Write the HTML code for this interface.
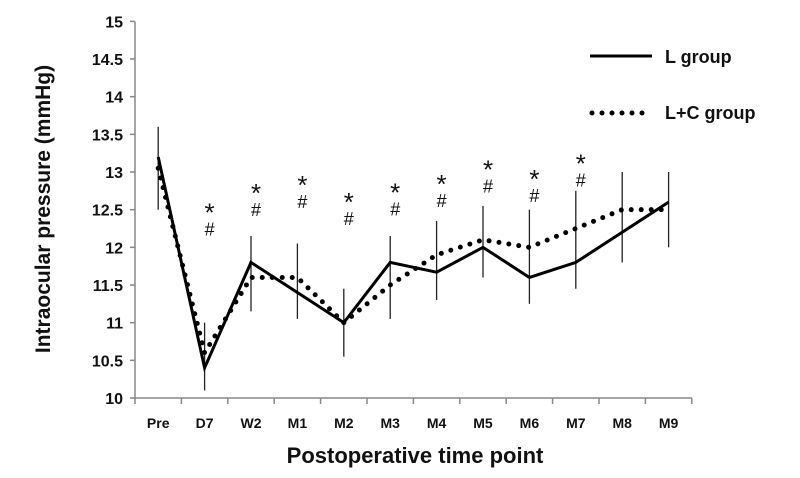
<!DOCTYPE html>
<html><head><meta charset="utf-8"><style>
body{margin:0;background:#fff;}
svg text{font-family:"Liberation Sans",sans-serif;}
</style></head><body>
<svg id="chart" width="800" height="473" viewBox="0 0 800 473" xmlns="http://www.w3.org/2000/svg">
<rect x="0" y="0" width="800" height="473" fill="#fff"/>
<g id="g"></g>
</svg>
<script>
const categories=["Pre","D7","W2","M1","M2","M3","M4","M5","M6","M7","M8","M9"];
const lGroup=[13.2,10.4,11.8,11.4,11.0,11.8,11.67,12.0,11.6,11.8,12.2,12.6];
const lcGroup=[13.05,10.6,11.6,11.6,11.0,11.5,11.9,12.1,12.0,12.25,12.5,12.5];
const errLow=[12.5,10.1,11.15,11.05,10.55,11.05,11.3,11.6,11.25,11.45,11.8,12.0];
const errHigh=[13.6,11.0,12.15,12.05,11.45,12.15,12.35,12.55,12.5,12.75,13.0,13.0];
const markTop=[null,12.5,12.76,12.87,12.64,12.77,12.88,13.07,12.95,13.15,null,null];
const yTicks=[10,10.5,11,11.5,12,12.5,13,13.5,14,14.5,15];
const x0=135,bw=46.4;
const X=i=>x0+(i+0.5)*bw;
const Y=v=>398-(v-10)*75.33;
const g=document.getElementById('g');
const NS='http://www.w3.org/2000/svg';
function mk(t,a,txt){const e=document.createElementNS(NS,t);for(const k in a)e.setAttribute(k,a[k]);if(txt!=null)e.textContent=txt;g.appendChild(e);return e;}
let e;
e=mk('line',{x1:x0,y1:Y(15),x2:x0,y2:398,stroke:'#888','stroke-width':1.5});

e=mk('line',{x1:x0,y1:398,x2:x0+12*bw,y2:398,stroke:'#888','stroke-width':1.5});

yTicks.forEach(v=>{
 e=mk('line',{x1:x0-5,y1:Y(v),x2:x0,y2:Y(v),stroke:'#888','stroke-width':1.5});
 
 e=mk('text',{x:x0-12,y:Y(v)+6,'text-anchor':'end','font-size':16,'font-weight':'bold',fill:'#111'},String(v));
 
});
for(let i=0;i<=12;i++){e=mk('line',{x1:x0+i*bw,y1:398,x2:x0+i*bw,y2:404,stroke:'#888','stroke-width':1.5});
 }
categories.forEach((c,i)=>{
 e=mk('text',{x:X(i),y:428,'text-anchor':'middle','font-size':14,'font-weight':'bold',fill:'#111'},c);
 
 e=mk('line',{x1:X(i),y1:Y(errLow[i]),x2:X(i),y2:Y(errHigh[i]),stroke:'#222','stroke-width':1.3});
 
});
e=mk('polyline',{points:lcGroup.map((v,i)=>X(i)+','+Y(v)).join(' '),fill:'none',stroke:'#000','stroke-width':5,'stroke-dasharray':'0 10','stroke-linecap':'round'});

e=mk('polyline',{points:lGroup.map((v,i)=>X(i)+','+Y(v)).join(' '),fill:'none',stroke:'#000','stroke-width':3});

categories.forEach((c,i)=>{
 if(markTop[i]==null)return;
 const ys=Y(markTop[i]);
 e=mk('text',{x:X(i)+5,y:ys+12,'text-anchor':'middle','font-size':26,fill:'#111'},'*');
 
 e=mk('text',{x:X(i)+5,y:ys+26,'text-anchor':'middle','font-size':18,fill:'#111'},'#');
 
});
e=mk('line',{x1:590,y1:56,x2:652,y2:56,stroke:'#000','stroke-width':3});

e=mk('text',{x:665,y:63,'font-size':18,'font-weight':'bold',fill:'#111'},'L group');

e=mk('line',{x1:592,y1:113,x2:652,y2:113,stroke:'#000','stroke-width':5,'stroke-dasharray':'0 10','stroke-linecap':'round'});

e=mk('text',{x:665,y:119,'font-size':18,'font-weight':'bold',fill:'#111'},'L+C group');

e=mk('text',{x:415,y:463,'text-anchor':'middle','font-size':22,'font-weight':'bold',fill:'#111'},'Postoperative time point');

e=mk('text',{x:0,y:0,'text-anchor':'middle','font-size':21,'font-weight':'bold',fill:'#111',transform:'translate(50,209) rotate(-90)'},'Intraocular pressure (mmHg)');

</script>
</body></html>
